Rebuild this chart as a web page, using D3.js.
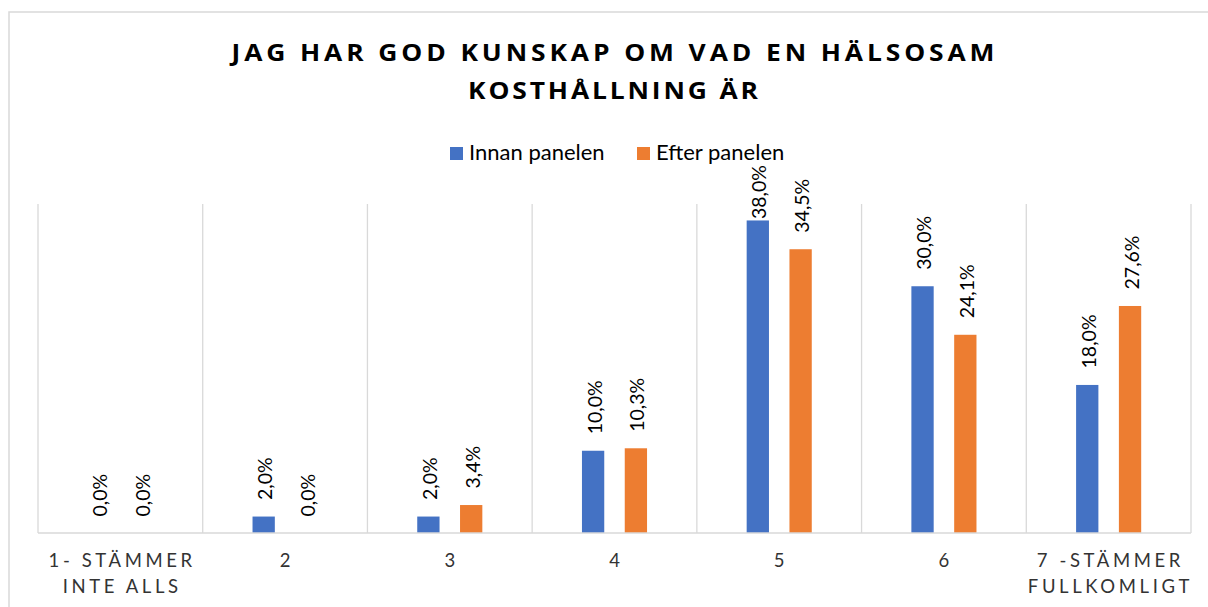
<!DOCTYPE html>
<html>
<head>
<meta charset="utf-8">
<script src="https://cdn.jsdelivr.net/npm/d3@7"></script>
<style>
  html, body { margin: 0; padding: 0; background: #fff; }
  svg { display: block; }
</style>
</head>
<body>
<svg id="chart" width="1208" height="607"></svg>
<script>
// ---- data ----
const categories = ["1- STÄMMER\nINTE ALLS", "2", "3", "4", "5", "6", "7 -STÄMMER\nFULLKOMLIGT"];
const seriesNames = ["Innan panelen", "Efter panelen"];
const innan = [0.0, 2.0, 2.0, 10.0, 38.0, 30.0, 18.0];
const efter = [0.0, 0.0, 3.4, 10.3, 34.5, 24.1, 27.6];
const titleLines = ["JAG HAR GOD KUNSKAP OM VAD EN HÄLSOSAM", "KOSTHÅLLNING ÄR"];
const colors = ["#4472C4", "#ED7D31"];

const svg = d3.select("#chart");
const W = 1208, H = 607;
const FONT = "Lato, 'Open Sans', sans-serif";

// outer chart border
svg.append("rect")
  .attr("x", 9).attr("y", 12)
  .attr("width", W + 20).attr("height", H + 20)
  .attr("fill", "#fff")
  .attr("stroke", "#d9d9d9").attr("stroke-width", 1.5);

// title (slightly widened glyphs like the reference)
const titleW = [763, 290];
const titleStretch = 1.1;
svg.append("g").selectAll("text").data(titleLines).join("text")
  .attr("transform", (d, i) => `translate(613,${60.5 + i * 38}) scale(${titleStretch},1)`)
  .attr("x", 0).attr("y", 0)
  .attr("text-anchor", "middle")
  .attr("font-family", "'Open Sans', Lato, sans-serif").attr("font-weight", 700).attr("font-size", 24)
  .attr("fill", "#000")
  .attr("textLength", (d, i) => titleW[i] / titleStretch).attr("lengthAdjust", "spacing")
  .text(d => d);

// legend
const legendItems = [{x: 450, tx: 469}, {x: 637, tx: 656}];
const lg = svg.append("g");
seriesNames.forEach((s, i) => {
  lg.append("rect").attr("x", legendItems[i].x).attr("y", 147)
    .attr("width", 13).attr("height", 13).attr("fill", colors[i]);
  lg.append("text").attr("x", legendItems[i].tx).attr("y", 159.5)
    .attr("font-family", FONT).attr("font-size", 22).attr("fill", "#000")
    .text(s);
});

// scales
const plot = {left: 38, right: 1191, top: 204, bottom: 533};
const x0 = d3.scaleBand().domain(d3.range(categories.length)).range([plot.left, plot.right]).paddingInner(0).paddingOuter(0);
const x1 = d3.scaleBand().domain(seriesNames).range([0, x0.bandwidth()]).paddingInner(0.479).paddingOuter(1.164);
const y = d3.scaleLinear().domain([0, 40]).range([plot.bottom, plot.top]);

// gridlines (category boundaries)
const bounds = d3.range(categories.length + 1).map(i => i < categories.length ? x0(i) : plot.right);
svg.append("g").selectAll("line").data(bounds).join("line")
  .attr("x1", d => d).attr("x2", d => d)
  .attr("y1", plot.top).attr("y2", plot.bottom)
  .attr("stroke", "#d9d9d9").attr("stroke-width", 1.3);

// bars
const data = categories.map((c, i) => ({i, vals: [innan[i], efter[i]]}));
const groups = svg.append("g").selectAll("g").data(data).join("g")
  .attr("transform", d => `translate(${x0(d.i)},0)`);

groups.selectAll("rect").data(d => d.vals.map((v, k) => ({v, k}))).join("rect")
  .attr("x", d => x1(seriesNames[d.k]))
  .attr("width", x1.bandwidth())
  .attr("y", d => y(d.v))
  .attr("height", d => plot.bottom - y(d.v))
  .attr("fill", d => colors[d.k]);

// baseline axis
svg.append("line").attr("x1", plot.left).attr("x2", plot.right)
  .attr("y1", plot.bottom).attr("y2", plot.bottom)
  .attr("stroke", "#d9d9d9").attr("stroke-width", 1.5);

// data labels
const fmt = v => d3.format(".1f")(v).replace(".", ",") + "%";
const labelSize = 19.5;
groups.selectAll("text.lbl").data(d => d.vals.map((v, k) => ({v, k}))).join("text")
  .attr("class", "lbl")
  .attr("font-family", FONT).attr("font-size", labelSize).attr("fill", "#000")
  .attr("text-anchor", "start")
  .attr("dy", "0.36em")
  .text(d => fmt(d.v))
  .each(function(d) {
    const len = this.getComputedTextLength();
    let start = y(d.v) - 16.5;
    const minTop = 165;
    if (start - len < minTop) start = minTop + len;
    const cx = x1(seriesNames[d.k]) + x1.bandwidth() / 2 + 1.5;
    d3.select(this).attr("transform", `translate(${cx},${start}) rotate(-90)`);
  });

// category axis labels
const xa = svg.append("g");
categories.forEach((c, i) => {
  const cx = x0(i) + x0.bandwidth() / 2;
  const lines = c.split("\n");
  const t = xa.append("text")
    .attr("font-family", FONT).attr("font-size", 18.5).attr("fill", "#333")
    .attr("letter-spacing", lines.length > 1 ? 3.6 : 0)
    .attr("text-anchor", "middle");
  lines.forEach((ln, j) => {
    t.append("tspan").attr("x", cx + (lines.length > 1 ? 1.8 : 0)).attr("y", 567 + j * 26).text(ln);
  });
});
</script>
</body>
</html>
